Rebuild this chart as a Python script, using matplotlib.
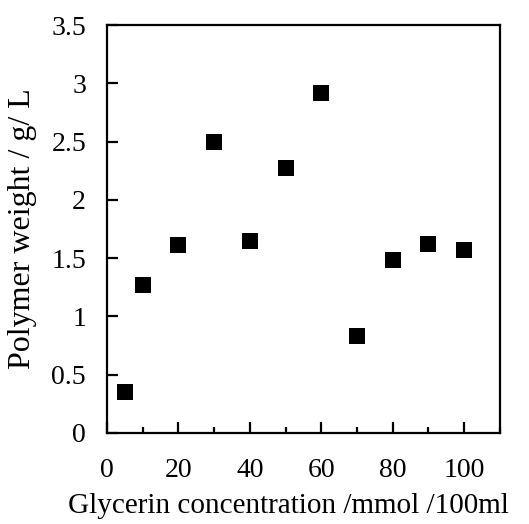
import numpy as np
import matplotlib
matplotlib.use('Agg')
import matplotlib.pyplot as plt
from matplotlib.ticker import MultipleLocator

# glycerin concentration (mmol/100ml) and polymer weight (g/L)
glycerin = [5, 10, 20, 30, 40, 50, 60, 70, 80, 90, 100]
polymer = [0.35, 1.27, 1.61, 2.50, 1.65, 2.27, 2.92, 0.83, 1.48, 1.62, 1.57]

xticks = [0, 20, 40, 60, 80, 100]
yticks = [0, 0.5, 1, 1.5, 2, 2.5, 3, 3.5]
ytick_labels = ['0', '0.5', '1', '1.5', '2', '2.5', '3', '3.5']

plt.rcParams['font.family'] = ['Liberation Serif', 'DejaVu Serif']

fig = plt.figure(figsize=(5.29, 5.24), dpi=100)
ax = fig.add_axes([0.202, 0.1737, 0.743, 0.7785])

ax.plot(glycerin, polymer, 's', color='black', markersize=11, markeredgewidth=0)

ax.set_xlim(0, 110)
ax.set_ylim(0, 3.5)
ax.set_xticks(xticks)
ax.set_xticklabels([str(t) for t in xticks])
ax.xaxis.set_minor_locator(MultipleLocator(10))
ax.set_yticks(yticks)
ax.set_yticklabels(ytick_labels)

for s in ax.spines.values():
    s.set_linewidth(1.6)

ax.tick_params(axis='both', which='major', direction='in', length=8, width=1.6,
               labelsize=20)
ax.tick_params(axis='x', which='major', pad=18)
ax.tick_params(axis='y', which='major', pad=15)
ax.tick_params(axis='x', which='minor', direction='in', length=4, width=1.6)
ax.tick_params(axis='y', which='minor', left=False)

ax.set_xlabel('Glycerin concentration /mmol /100ml', fontsize=21)
ax.xaxis.set_label_coords(0.463, -0.148)
ax.set_ylabel('Polymer weight / g/ L', fontsize=23)
ax.yaxis.set_label_coords(-0.178, 0.5)

fig.savefig('out.png', dpi=100)
